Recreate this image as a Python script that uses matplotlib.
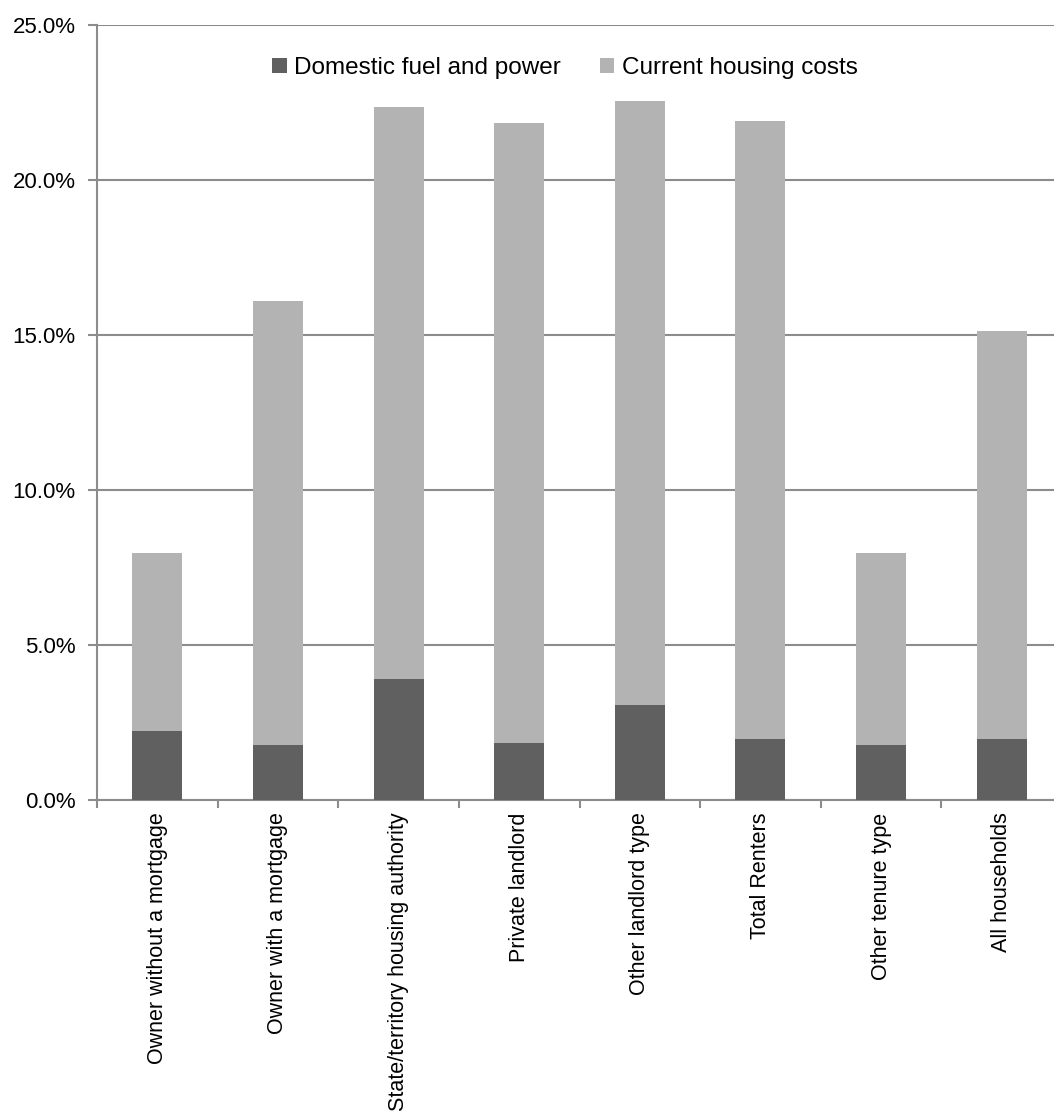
import matplotlib
matplotlib.use("Agg")
import matplotlib.pyplot as plt
import numpy as np
from matplotlib.ticker import FuncFormatter, FixedLocator

plt.rcParams['font.family'] = ['Liberation Sans', 'DejaVu Sans']

# Datos (% del gasto)
categorias = [
    "Owner without a mortgage",
    "Owner with a mortgage",
    "State/territory housing authority",
    "Private landlord",
    "Other landlord type",
    "Total Renters",
    "Other tenure type",
    "All households",
]
combustible = [2.22, 1.76, 3.89, 1.83, 3.05, 1.96, 1.76, 1.96]
totales = [7.96, 16.10, 22.36, 21.85, 22.56, 21.91, 7.96, 15.13]
vivienda = [t - c for t, c in zip(totales, combustible)]

color_oscuro = '#606060'
color_claro = '#b3b3b3'
color_eje = '#8c8c8c'

fig = plt.figure(figsize=(10.54, 11.18), dpi=100)
ax = fig.add_axes([97 / 1054, 318 / 1118, 965 / 1054, 775 / 1118])

x = np.arange(len(categorias))
ancho = 0.415
b1 = ax.bar(x, combustible, ancho, color=color_oscuro, zorder=3,
            label='Domestic fuel and power')
b2 = ax.bar(x, vivienda, ancho, bottom=combustible, color=color_claro, zorder=3,
            label='Current housing costs')

ax.set_xlim(-0.5, len(categorias) - 0.5)
ax.set_ylim(0, 25)
ax.set_yticks(np.arange(0, 26, 5))
ax.yaxis.set_major_formatter(FuncFormatter(lambda v, p: f'{v:.1f}%'))
ax.grid(axis='y', color=color_eje, linewidth=1.5, zorder=0)
ax.set_axisbelow(True)

for lado in ['top', 'right']:
    ax.spines[lado].set_visible(False)
for lado in ['left', 'bottom']:
    ax.spines[lado].set_color(color_eje)
    ax.spines[lado].set_linewidth(1.5)

ax.tick_params(axis='y', length=6.5, width=1.5, color=color_eje, labelsize=16, pad=9)

# Etiquetas de categoría y marcas entre categorías
ax.set_xticks(x)
ax.set_xticklabels(categorias, rotation=90, fontsize=15.5, va='top')
ax.tick_params(axis='x', which='major', length=0, pad=9)
ax.xaxis.set_minor_locator(FixedLocator(np.arange(-0.5, len(categorias), 1.0)))
ax.tick_params(axis='x', which='minor', length=6, width=1.5, color=color_eje)

fig.legend(handles=[b1, b2], loc='center', bbox_to_anchor=(565 / 1054, 1 - 68 / 1118),
           ncol=2, frameon=False, fontsize=17.5, handlelength=0.6, handleheight=0.6,
           handletextpad=0.3, columnspacing=1.6)

fig.savefig('out.png', dpi=100)
